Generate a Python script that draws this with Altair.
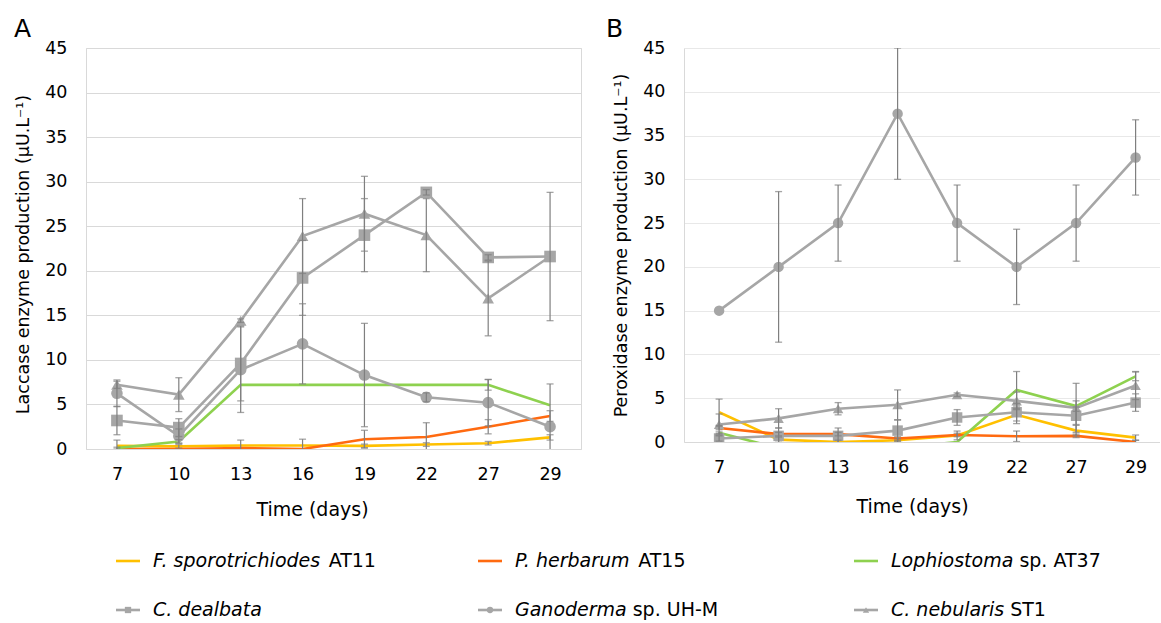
import altair as alt
import pandas as pd

FONT = "DejaVu Sans"

# ---------------- data ----------------
days = [7, 10, 13, 16, 19, 22, 27, 29]

series = ["F. sporotrichiodes AT11", "P. herbarum AT15", "Lophiostoma sp. AT37",
          "C. dealbata", "Ganoderma sp. UH-M", "C. nebularis ST1"]
series_italic = ["F. sporotrichiodes", "P. herbarum", "Lophiostoma",
                 "C. dealbata", "Ganoderma", "C. nebularis"]
series_plain = ["AT11", "AT15", "sp. AT37", "", "sp. UH-M", "ST1"]
gray_series = ["C. dealbata", "Ganoderma sp. UH-M", "C. nebularis ST1"]
gray_shapes = ["square", "circle", "triangle-up"]

# Panel A: laccase (µU.L-1), mean and SD
lac_fsp = [0.35, 0.3, 0.4, 0.4, 0.35, 0.5, 0.65, 1.3]
lac_fsp_sd = [0.65, 0.2, 0.6, 0.7, 0.2, 0.2, 0.2, 0.3]
lac_phe = [0.0, 0.0, 0.1, 0.0, 1.1, 1.35, 2.5, 3.7]
lac_phe_sd = [0.0, 0.0, 0.0, 0.0, 1.0, 1.6, 0.8, 0.6]
lac_lop = [0.1, 0.85, 7.2, 7.2, 7.2, 7.2, 7.2, 4.9]
lac_lop_sd = [0.1, 0.2, 0.0, 0.0, 0.0, 0.0, 0.6, 0.0]
lac_cde = [3.2, 2.4, 9.6, 19.2, 24.0, 28.8, 21.5, 21.6]
lac_cde_sd = [1.6, 1.0, 4.2, 4.2, 4.1, 0.3, 0.3, 7.2]
lac_gan = [6.25, 1.45, 8.9, 11.8, 8.3, 5.8, 5.2, 2.5]
lac_gan_sd = [1.5, 0.8, 4.8, 4.5, 5.8, 0.5, 2.6, 4.8]
lac_cne = [7.2, 6.1, 14.4, 23.9, 26.4, 24.0, 16.9, 21.6]
lac_cne_sd = [0.4, 1.9, 0.2, 4.2, 4.2, 4.1, 4.2, 0.0]

# Panel B: peroxidase (µU.L-1), mean and SD
per_fsp = [3.4, 0.27, 0.0, 0.2, 0.75, 3.1, 1.3, 0.5]
per_fsp_sd = [1.5, 0.3, 0.2, 0.2, 0.5, 1.0, 0.6, 0.3]
per_phe = [1.6, 0.9, 0.9, 0.4, 0.8, 0.65, 0.7, 0.0]
per_phe_sd = [0.2, 0.2, 0.2, 0.2, 0.2, 0.6, 0.2, 0.2]
per_lop = [1.05, -0.7, -0.7, -0.7, 0.0, 5.95, 4.1, 7.5]
per_lop_sd = [0.1, 0.0, 0.0, 0.0, 0.0, 2.1, 0.6, 0.5]
per_cde = [0.4, 0.7, 0.7, 1.3, 2.8, 3.4, 3.0, 4.5]
per_cde_sd = [0.3, 0.9, 0.9, 1.2, 0.9, 1.0, 1.0, 1.0]
per_gan = [15.0, 20.0, 25.0, 37.5, 25.0, 20.0, 25.0, 32.5]
per_gan_sd = [0.0, 8.6, 4.35, 7.5, 4.35, 4.3, 4.35, 4.3]
per_cne = [2.0, 2.7, 3.8, 4.25, 5.4, 4.7, 3.9, 6.45]
per_cne_sd = [1.2, 1.1, 0.7, 1.7, 0.2, 1.0, 2.8, 1.6]

# ---------------- style ----------------
series_colors = ["#FFC000", "#FF6A10", "#8ED14F", "#A6A6A6", "#A6A6A6", "#A6A6A6"]
series_widths = [2.6, 2.6, 2.6, 1.6, 1.6, 1.6]
GRAY = "#A6A6A6"
ERR = "#7F7F7F"
BORDER = "#D9D9D9"


def long_table(value_lists, sd_lists):
    rows = []
    for name, vals, sds in zip(series, value_lists, sd_lists):
        for d, v, s in zip(days, vals, sds):
            rows.append({"day": d, "series": name, "value": v, "sd": s,
                         "lo": v - s, "hi": v + s, "gray": name in gray_series})
    return pd.DataFrame(rows)


df_a = long_table([lac_fsp, lac_phe, lac_lop, lac_cde, lac_gan, lac_cne],
                  [lac_fsp_sd, lac_phe_sd, lac_lop_sd, lac_cde_sd, lac_gan_sd, lac_cne_sd])
df_b = long_table([per_fsp, per_phe, per_lop, per_cde, per_gan, per_cne],
                  [per_fsp_sd, per_phe_sd, per_lop_sd, per_cde_sd, per_gan_sd, per_cne_sd])

color_enc = alt.Color("series:N", scale=alt.Scale(domain=series, range=series_colors), legend=None)
width_enc = alt.StrokeWidth("series:N", scale=alt.Scale(domain=series, range=series_widths), legend=None)
shape_enc = alt.Shape("series:N", scale=alt.Scale(domain=gray_series, range=gray_shapes), legend=None)


def panel(df, ytitle, letter, w, h, xscale, letter_xy, xdomain, ydomain, grid_col,
          stroke, x_tp, title_x, title_y, marker_size):
    xaxis = alt.Axis(title="Time (days)", labelAngle=0, ticks=False, tickSize=0,
                     domain=xdomain, domainColor=BORDER, labelPadding=16,
                     titlePadding=x_tp, titleX=title_x, grid=False,
                     labelFontSize=17.5, titleFontSize=19)
    yaxis_kw = dict(title=ytitle, values=list(range(0, 46, 5)), ticks=False, tickSize=0,
                    domain=ydomain, domainColor=BORDER, gridColor=grid_col,
                    labelPadding=19, titlePadding=12, labelFontSize=17.5, titleFontSize=17.5)
    if title_y is not None:
        yaxis_kw["titleY"] = title_y
    yaxis = alt.Axis(**yaxis_kw)
    yscale = alt.Scale(domain=[0, 45], nice=False, zero=True)
    x = alt.X("day:O", scale=xscale, axis=xaxis)

    def Y(field):
        return alt.Y(field, type="quantitative", scale=yscale, axis=yaxis)

    base = alt.Chart(df)
    colored = base.transform_filter("!datum.gray").mark_line(clip=True).encode(
        x=x, y=Y("value"), color=color_enc, strokeWidth=width_enc)
    grays = base.transform_filter("datum.gray").mark_line(clip=True).encode(
        x=x, y=Y("value"), color=color_enc, strokeWidth=width_enc)
    markers = base.transform_filter("datum.gray").mark_point(
        filled=True, opacity=1, size=marker_size, clip=True).encode(
        x=x, y=Y("value"), shape=shape_enc, color=alt.value(GRAY))
    errs = base.transform_filter("datum.sd > 0")
    err_rule = errs.mark_rule(color=ERR, strokeWidth=1.2, clip=True).encode(
        x=x, y=Y("lo"), y2="hi:Q")
    cap_lo = errs.mark_tick(color=ERR, thickness=1.3, size=7, clip=True).encode(x=x, y=Y("lo"))
    cap_hi = errs.mark_tick(color=ERR, thickness=1.3, size=7, clip=True).encode(x=x, y=Y("hi"))
    lab = alt.Chart(pd.DataFrame({"t": [letter]})).mark_text(
        align="left", baseline="alphabetic", fontSize=25, font=FONT, color="black").encode(
        text="t:N", x=alt.value(letter_xy[0]), y=alt.value(letter_xy[1]))
    return alt.layer(colored, grays, markers, err_rule, cap_lo, cap_hi, lab).properties(
        width=w, height=h, view=alt.ViewBackground(stroke=stroke, strokeWidth=1))


panel_a = panel(df_a, "Laccase enzyme production (µU.L⁻¹)", "A", 495, 401,
                alt.Scale(type="point", padding=0.5), (-72, -11),
                False, False, BORDER, BORDER, 18, 226, 206, 135)
panel_b = panel(df_b, "Peroxidase enzyme production (µU.L⁻¹)", "B", 476, 394,
                alt.Scale(type="point", paddingOuter=0.434, align=0.59), (-78, -11),
                True, True, "#E8E8E8", None, 22, 228, None, 110)

# ---------------- custom legend (mixed italic / upright text) ----------------
GLYPH_W = {" ": 651, ".": 651, "-": 739, "A": 1401, "C": 1430, "F": 1178, "G": 1577,
           "H": 1540, "L": 1141, "M": 1767, "P": 1235, "S": 1300, "T": 1251, "U": 1499,
           "a": 1255, "b": 1300, "c": 1126, "d": 1300, "e": 1260, "g": 1300, "h": 1298,
           "i": 569, "l": 569, "m": 1995, "n": 1298, "o": 1253, "p": 1300, "r": 842,
           "s": 1067, "t": 803, "u": 1298, "y": 1212, "z": 1075}


def text_width(s, fs):
    return sum(GLYPH_W.get(ch, 1303) for ch in s) / 2048.0 * fs


LEG_FS = 19
LEG_LEFT = 85          # legend cell origin is aligned with panel A's plot origin
LEG_W, LEG_H = 1068, 84
LEG_TOP = 528
col_text_x = [152, 514, 890]
row_center_y = [560, 609]

leg_rows = []
for i, name in enumerate(series):
    c, r = i % 3, i // 3
    tx = col_text_x[c] - LEG_LEFT
    ty = row_center_y[r] - LEG_TOP
    leg_rows.append({"series": name, "italic": series_italic[i], "plain": series_plain[i],
                     "tx": tx, "ty": ty,
                     "px": tx + text_width(series_italic[i] + " ", LEG_FS),
                     "sx1": tx - 37, "sx2": tx - 13, "sxm": tx - 25,
                     "gray": name in gray_series})
leg = pd.DataFrame(leg_rows)

lx = alt.Scale(domain=[0, LEG_W], range=[0, LEG_W])
ly = alt.Scale(domain=[0, LEG_H], range=[0, LEG_H])
lbase = alt.Chart(leg)
sym_line = lbase.mark_rule().encode(
    x=alt.X("sx1:Q", scale=lx, axis=None), x2="sx2:Q",
    y=alt.Y("ty:Q", scale=ly, axis=None), color=color_enc, strokeWidth=width_enc)
sym_pt = lbase.transform_filter("datum.gray").mark_point(filled=True, opacity=1, size=40).encode(
    x=alt.X("sxm:Q", scale=lx, axis=None), y=alt.Y("ty:Q", scale=ly, axis=None),
    shape=shape_enc, color=alt.value(GRAY))
txt_it = lbase.mark_text(align="left", baseline="middle", fontStyle="italic", font=FONT,
                         fontSize=LEG_FS, color="black").encode(
    x=alt.X("tx:Q", scale=lx, axis=None), y=alt.Y("ty:Q", scale=ly, axis=None), text="italic:N")
txt_pl = lbase.transform_filter("datum.plain != ''").mark_text(
    align="left", baseline="middle", font=FONT, fontSize=LEG_FS, color="black").encode(
    x=alt.X("px:Q", scale=lx, axis=None), y=alt.Y("ty:Q", scale=ly, axis=None), text="plain:N")
legend_chart = alt.layer(sym_line, sym_pt, txt_it, txt_pl).properties(
    width=LEG_W, height=LEG_H, view=alt.ViewBackground(stroke=None))

chart = alt.vconcat(
    alt.hconcat(panel_a, panel_b, spacing=24),
    legend_chart, spacing=9,
).properties(
    padding={"left": 13, "top": 16, "right": 0, "bottom": 0}
).configure(font=FONT).configure_axis(
    labelFont=FONT, titleFont=FONT, labelColor="#000000", titleColor="#000000",
    titleFontWeight="normal"
)

chart.save("out.html", embed_options={"renderer": "svg", "actions": False})
